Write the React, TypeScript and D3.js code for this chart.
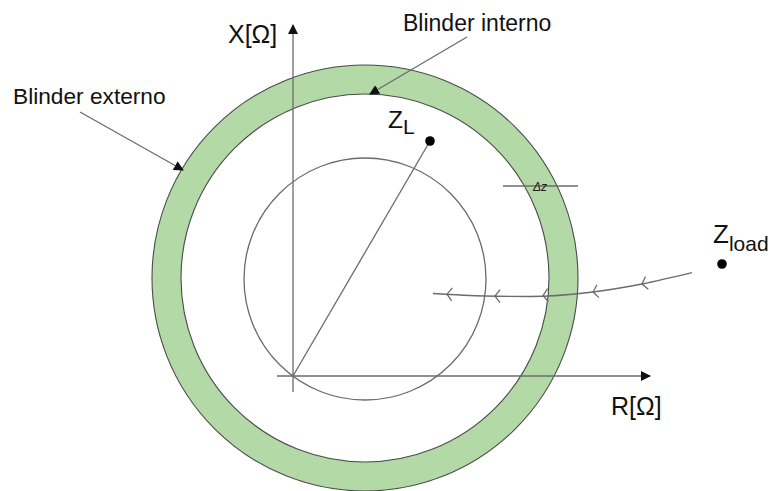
import React from "react";
import * as d3 from "d3";

// ---- data (impedance plane units) ----
const blinderCenter: [number, number] = [7.2, 9.8];
const blinderRadii = [21.3, 18.4]; // outer, inner
const mhoCenter: [number, number] = [7.2, 9.7];
const mhoRadius = [12.1];
const zLPoint: [number, number] = [13.7, 23.5];
const zLoadPoint: [number, number] = [42.9, 11.2];
const loadTrajectory: [number, number][] = [
  [39.9, 10.33],
  [34.9, 9.2],
  [30.0, 8.4],
  [23.7, 7.95],
  [19.2, 8.0],
  [14.0, 8.25],
];
const chevronX = [15.4, 20.2, 25.0, 30.0, 34.9];
const xAxisExtent = [-1.6, 35.7];
const yAxisExtent = [-1.6, 35.1];
const deltaZLine = [21.0, 28.5];
const deltaZLevel = [19.0];

const W = 777;
const H = 491;

export default function App() {
  const x = d3.scaleLinear().domain([0, 10]).range([293, 393]);
  const y = d3.scaleLinear().domain([0, 10]).range([376, 276]);
  const k = x(1) - x(0);

  const ring = d3
    .arc()
    .innerRadius(blinderRadii[1] * k)
    .outerRadius(blinderRadii[0] * k)
    .startAngle(0)
    .endAngle(2 * Math.PI)({} as any) as string;

  const lineGen = d3
    .line<[number, number]>()
    .x((d) => x(d[0]))
    .y((d) => y(d[1]))
    .curve(d3.curveMonotoneX);
  const sorted = [...loadTrajectory].sort((a, b) => a[0] - b[0]);
  const trajPath = lineGen(sorted) as string;

  const interpY = d3
    .scaleLinear()
    .domain(sorted.map((d) => d[0]))
    .range(sorted.map((d) => d[1]));

  const stroke = "#6b6b6b";
  const font = "'Liberation Sans', Arial, Helvetica, sans-serif";

  return (
    <svg
      width={W}
      height={H}
      style={{ position: "absolute", left: 0, top: 0, background: "#fff" }}
      fontFamily={font}
    >
      <defs>
        <marker
          id="arrow"
          viewBox="0 0 10 10"
          refX="9"
          refY="5"
          markerWidth="10"
          markerHeight="10"
          markerUnits="userSpaceOnUse"
          orient="auto"
        >
          <path d="M0,0 L10,5 L0,10 Z" fill="#111" />
        </marker>
      </defs>

      {/* blinder ring */}
      <path
        d={ring}
        transform={`translate(${x(blinderCenter[0])},${y(blinderCenter[1])})`}
        fill="#b3d9a7"
        stroke="#4a4a4a"
        strokeWidth={1.1}
        fillRule="evenodd"
      />

      {/* mho circle */}
      <circle
        cx={x(mhoCenter[0])}
        cy={y(mhoCenter[1])}
        r={mhoRadius[0] * k}
        fill="none"
        stroke={stroke}
        strokeWidth={1.3}
      />

      {/* axes */}
      <line
        x1={x(xAxisExtent[0])}
        y1={y(0)}
        x2={x(xAxisExtent[1])}
        y2={y(0)}
        stroke={stroke}
        strokeWidth={1.3}
        markerEnd="url(#arrow)"
      />
      <line
        x1={x(0)}
        y1={y(yAxisExtent[0])}
        x2={x(0)}
        y2={y(yAxisExtent[1])}
        stroke={stroke}
        strokeWidth={1.3}
        markerEnd="url(#arrow)"
      />

      {/* Z_L vector */}
      <line
        x1={x(0)}
        y1={y(0)}
        x2={x(zLPoint[0])}
        y2={y(zLPoint[1])}
        stroke={stroke}
        strokeWidth={1.3}
      />
      <circle cx={x(zLPoint[0])} cy={y(zLPoint[1])} r={4.8} fill="#000" />

      {/* Z_load */}
      <circle cx={x(zLoadPoint[0])} cy={y(zLoadPoint[1])} r={4.8} fill="#000" />

      {/* load trajectory */}
      <path d={trajPath} fill="none" stroke={stroke} strokeWidth={1.3} />
      {chevronX.map((cx, i) => {
        const px = x(cx);
        const py = y(interpY(cx));
        const py2 = y(interpY(cx + 0.5));
        const ang = (Math.atan2(py2 - py, x(cx + 0.5) - px) * 180) / Math.PI;
        return (
          <path
            key={i}
            d="M5,-6.5 L0,0 L5,6.5"
            transform={`translate(${px},${py}) rotate(${ang})`}
            fill="none"
            stroke={stroke}
            strokeWidth={1.3}
          />
        );
      })}

      {/* delta Z marker */}
      <line
        x1={x(deltaZLine[0])}
        y1={y(deltaZLevel[0])}
        x2={x(deltaZLine[1])}
        y2={y(deltaZLevel[0])}
        stroke={stroke}
        strokeWidth={1.3}
      />
      <text x={540} y={191} fontSize={12} textAnchor="middle" fill="#222" fontStyle="italic">
        Δz
      </text>

      {/* annotation arrows */}
      <line x1={80} y1={112} x2={183} y2={170} stroke={stroke} strokeWidth={1.3} markerEnd="url(#arrow)" />
      <line x1={467} y1={37} x2={370} y2={94} stroke={stroke} strokeWidth={1.3} markerEnd="url(#arrow)" />

      {/* labels */}
      <text x={13} y={104} fontSize={22.7} fill="#111">
        Blinder externo
      </text>
      <text x={403} y={31} fontSize={23} fill="#111">
        Blinder interno
      </text>
      <text x={228} y={43} fontSize={25} fill="#111">
        X[Ω]
      </text>
      <text x={611} y={415} fontSize={25} fill="#111">
        R[Ω]
      </text>
      <text x={388} y={128} fontSize={24.5} fill="#111">
        Z
        <tspan fontSize={21} dy={6}>
          L
        </tspan>
      </text>
      <text x={713} y={243} fontSize={26} fill="#111">
        Z
        <tspan fontSize={21} dy={8}>
          load
        </tspan>
      </text>
    </svg>
  );
}
